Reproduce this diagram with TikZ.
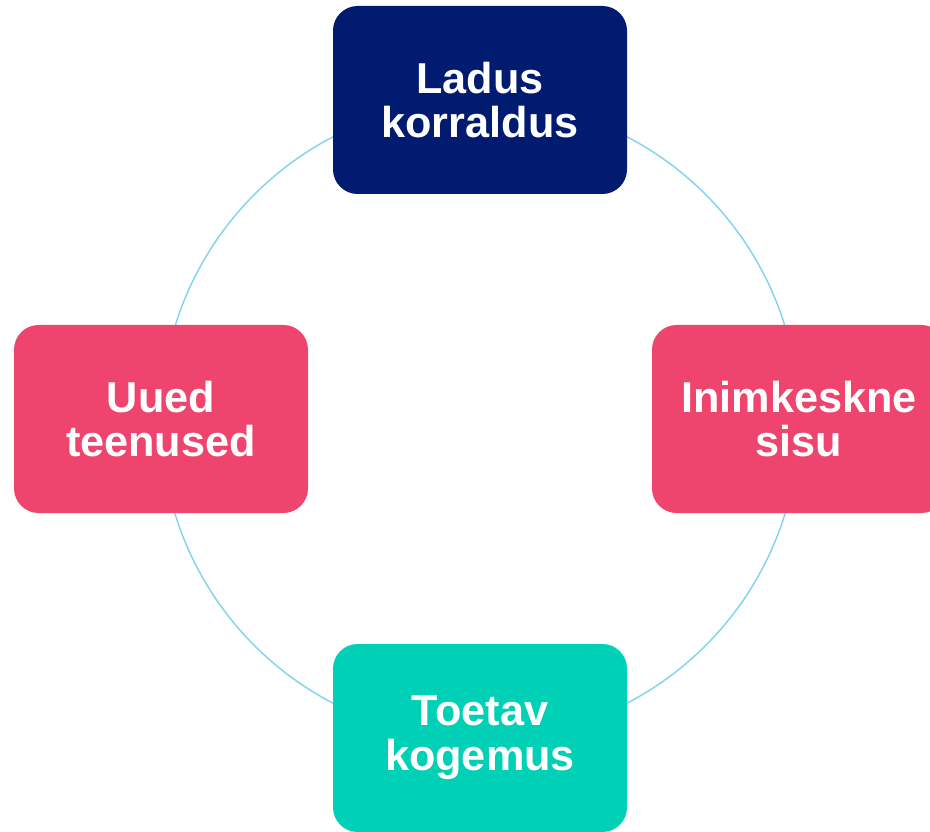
\documentclass[tikz,border=0pt]{standalone}
\usepackage{fontspec}
\setmainfont{Liberation Sans}
\usepackage{xcolor}
\definecolor{navybox}{HTML}{001B6F}
\definecolor{pinkbox}{HTML}{EE446E}
\definecolor{tealbox}{HTML}{00D0B5}
\definecolor{ringblue}{HTML}{7FD2F2}
\usetikzlibrary{backgrounds}

\begin{document}
\begin{tikzpicture}[
  card/.style={rounded corners=14pt,minimum width=5.88cm,minimum height=3.76cm,
               text=white,font=\fontsize{24.6}{25.5}\selectfont\bfseries,align=center},
  topcard/.style={card,fill=navybox},
  sidecard/.style={card,fill=pinkbox},
  lowcard/.style={card,fill=tealbox},
  ring/.style={draw=ringblue,line width=0.8pt}
]
\useasboundingbox (0,0) rectangle (18.6,16.62);

% Keskpunkt
\coordinate (mid) at (9.6,8.22);

% Kaardid
\node[topcard]  (ladus) at (9.6,14.62)  {Ladus\\korraldus};
\node[sidecard] (uued)  at (3.22,8.24) {Uued\\teenused};
\node[sidecard] (inim)  at (15.98,8.24) {Inimkeskne\\sisu};
\node[lowcard]  (toet)  at (9.6,1.86)  {Toetav\\kogemus};

% Ring taustal
\begin{pgfonlayer}{background}
  \draw[ring] (mid) circle (6.38cm);
\end{pgfonlayer}

\end{tikzpicture}
\end{document}
